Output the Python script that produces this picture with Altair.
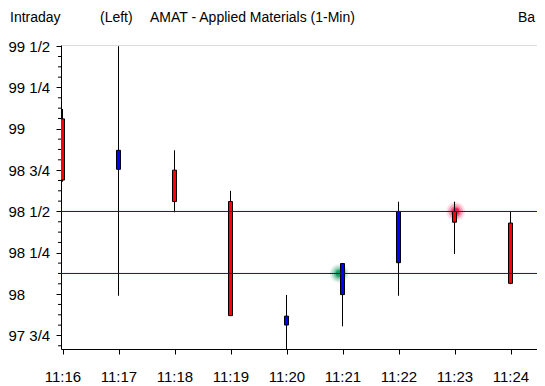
import altair as alt
import pandas as pd

# ---- data ----
times = ["11:16", "11:17", "11:18", "11:19", "11:20", "11:21", "11:22", "11:23", "11:24"]
opens = [99.06, 98.755, 98.75, 98.56, 97.813, 97.997, 98.19, 98.50, 98.43]
closes = [98.69, 98.87, 98.56, 97.87, 97.867, 98.185, 98.50, 98.435, 98.065]
highs = [99.12, 99.50, 98.87, 98.625, 97.995, 98.185, 98.559, 98.559, 98.50]
lows = [98.68, 97.99, 98.495, 97.867, 97.60, 97.805, 97.99, 98.243, 98.06]

hline_values = [98.5, 98.125]

marker_times = [20.94, 23.02]          # minutes past 11:00
marker_values = [98.125, 98.5]
marker_colors = ["#10a060", "#ff1040"]

y_tick_values = [97.75, 98.0, 98.25, 98.5, 98.75, 99.0, 99.25, 99.5]
y_tick_labels = ["97 3/4", "98", "98 1/4", "98 1/2", "98 3/4", "99", "99 1/4", "99 1/2"]
y_minor_values = [97.6875, 97.8125, 97.875, 97.9375, 98.0625, 98.125, 98.1875,
                  98.3125, 98.375, 98.4375, 98.5625, 98.625, 98.6875,
                  98.8125, 98.875, 98.9375, 99.0625, 99.125, 99.1875,
                  99.3125, 99.375, 99.4375]

title_parts = ["Intraday", "(Left)", "AMAT - Applied Materials  (1-Min)", "Ba"]

FONT = "Liberation Sans, Arial, sans-serif"

# ---- tables ----
minutes = [int(t.split(":")[1]) for t in times]
df = pd.DataFrame({"minute": minutes, "time": times, "open": opens, "close": closes,
                   "high": highs, "low": lows})
df["dir"] = ["down" if o > c else "up" for o, c in zip(opens, closes)]

hl = pd.DataFrame({"v": hline_values})
mk = pd.DataFrame({"minute": marker_times, "v": marker_values, "c": marker_colors})
minor = pd.DataFrame({"v": y_minor_values})

x_dom = [15.9732, 24.4732]
y_dom = [97.668, 99.507]

expr_parts = " : ".join(f"datum.value == {val} ? '{lab}'" for val, lab in zip(y_tick_values, y_tick_labels))
y_label_expr = expr_parts + " : ''"

x_scale = alt.Scale(domain=x_dom, nice=False, zero=False, padding=0)
y_scale = alt.Scale(domain=y_dom, nice=False, zero=False, padding=0)

x_axis = alt.Axis(values=minutes, labelExpr="'11:' + datum.value", title=None, grid=False,
                  tickSize=5, tickColor="black", domainColor="black", labelColor="black",
                  labelFont=FONT, labelFontSize=15, labelPadding=15, labelOverlap=False)
y_axis = alt.Axis(values=y_tick_values, labelExpr=y_label_expr, title=None, grid=False,
                  tickSize=5, tickColor="black", domainColor="black", labelColor="black",
                  labelFont=FONT, labelFontSize=15, labelAlign="left", labelPadding=48,
                  labelBaseline="middle", labelOverlap=False, labelBound=False)

base = alt.Chart(df)

wicks = base.mark_rule(color="black", strokeWidth=1, clip=True).encode(
    x=alt.X("minute:Q", scale=x_scale, axis=x_axis),
    y=alt.Y("low:Q", scale=y_scale, axis=y_axis),
    y2="high:Q",
)

bodies = base.mark_bar(size=4, stroke="black", strokeWidth=1, clip=True).encode(
    x=alt.X("minute:Q", scale=x_scale),
    y=alt.Y("open:Q", scale=y_scale),
    y2="close:Q",
    color=alt.Color("dir:N", scale=alt.Scale(domain=["down", "up"], range=["#ff0000", "#0000ff"]),
                    legend=None),
)

minor_ticks = alt.Chart(minor).mark_rule(color="black", strokeWidth=1).encode(
    y=alt.Y("v:Q", scale=y_scale),
    x=alt.value(-3),
    x2=alt.value(0),
)

glows = []
for sz, op in [(360, 0.12), (220, 0.25), (110, 0.45), (45, 0.9)]:
    glows.append(alt.Chart(mk).mark_circle(size=sz, opacity=op, clip=True).encode(
        x=alt.X("minute:Q", scale=x_scale),
        y=alt.Y("v:Q", scale=y_scale),
        color=alt.Color("c:N", scale=None, legend=None),
    ))

hlines = alt.Chart(hl).mark_rule(color="#0000ff", strokeWidth=1).encode(
    y=alt.Y("v:Q", scale=y_scale),
)

title_x = [-51, 39, 89, 457]
titles = []
for txt, tx in zip(title_parts, title_x):
    titles.append(alt.Chart(pd.DataFrame({"t": [txt]})).mark_text(
        align="left", baseline="alphabetic", font=FONT, fontSize=14, color="black"
    ).encode(text="t:N", x=alt.value(tx), y=alt.value(-23)))

chart = alt.layer(*glows, wicks, bodies, hlines, minor_ticks, *titles).properties(
    width=476, height=304,
    autosize=alt.AutoSizeParams(type="none"),
    padding={"left": 53, "top": 37, "right": 0, "bottom": 37},
).configure_view(stroke=None).configure(background="white")

chart.save("out.html", embed_options={"renderer": "svg", "actions": False})
